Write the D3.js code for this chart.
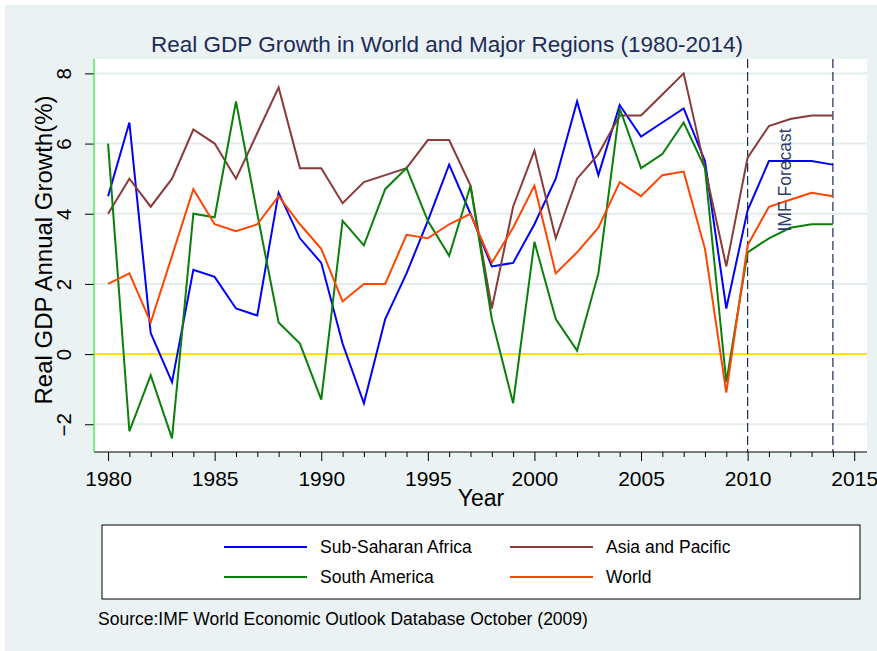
<!DOCTYPE html>
<html><head><meta charset="utf-8">
<script src="https://cdn.jsdelivr.net/npm/d3@7"></script>
<style>body{margin:0;background:#fff;} svg{display:block;font-family:"Liberation Sans",Arial,sans-serif;}</style>
</head><body>
<script>
const years = d3.range(1980, 2015);
const subSaharanAfrica = [4.5,6.6,0.6,-0.8,2.4,2.2,1.3,1.1,4.6,3.3,2.6,0.3,-1.4,1.0,2.3,3.8,5.4,4.0,2.5,2.6,3.7,5.0,7.2,5.1,7.1,6.2,6.6,7.0,5.5,1.3,4.1,5.5,5.5,5.5,5.4];
const asiaPacific = [4.0,5.0,4.2,5.0,6.4,6.0,5.0,6.3,7.6,5.3,5.3,4.3,4.9,5.1,5.3,6.1,6.1,4.8,1.3,4.2,5.8,3.3,5.0,5.7,6.8,6.8,7.4,8.0,5.3,2.5,5.6,6.5,6.7,6.8,6.8];
const southAmerica = [6.0,-2.2,-0.6,-2.4,4.0,3.9,7.2,4.0,0.9,0.3,-1.3,3.8,3.1,4.7,5.3,3.8,2.8,4.8,1.0,-1.4,3.2,1.0,0.1,2.3,7.0,5.3,5.7,6.6,5.3,-0.8,2.9,3.3,3.6,3.7,3.7];
const world = [2.0,2.3,0.9,2.8,4.7,3.7,3.5,3.7,4.5,3.7,3.0,1.5,2.0,2.0,3.4,3.3,3.7,4.0,2.6,3.6,4.8,2.3,2.9,3.6,4.9,4.5,5.1,5.2,3.0,-1.1,3.1,4.2,4.4,4.6,4.5];
const seriesNames = ["Sub-Saharan Africa","Asia and Pacific","South America","World"];
const seriesColors = ["#0000ff","#8b3a3a","#0a800a","#ff4500"];
const yTicks = [-2,0,2,4,6,8];
const xTicks = [1980,1985,1990,1995,2000,2005,2010,2015];
const forecastYears = [2010,2014];
const titleText = "Real GDP Growth in World and Major Regions (1980-2014)";
const sourceText = "Source:IMF World Economic Outlook Database October (2009)";

const W = 877, H = 651;
const pl = 94, pr = 867, pt = 59, pb = 452;
const svg = d3.select("body").append("svg").attr("width", W).attr("height", H);
svg.append("rect").attr("x",0).attr("y",0).attr("width",W).attr("height",H).attr("fill","#ffffff");
svg.append("rect").attr("x",5).attr("y",5).attr("width",W-5).attr("height",H-5).attr("fill","#eaf2f3");
svg.append("rect").attr("x",pl).attr("y",pt).attr("width",pr-pl).attr("height",pb-pt).attr("fill","#ffffff");

const x = d3.scaleLinear().domain([1979.34, 2015.6]).range([pl, pr]);
const y = d3.scaleLinear().domain([-2.79, 8.41]).range([pb, pt]);

// gridlines
svg.append("g").selectAll("line").data(yTicks.filter(v=>v!==0)).join("line")
  .attr("x1",pl).attr("x2",pr).attr("y1",d=>y(d)).attr("y2",d=>y(d))
  .attr("stroke","#e4ecee").attr("stroke-width",2);
// zero line
svg.append("line").attr("x1",pl).attr("x2",pr).attr("y1",y(0)).attr("y2",y(0))
  .attr("stroke","#ffd700").attr("stroke-width",1.8);

// forecast lines
svg.append("g").selectAll("line").data(forecastYears).join("line")
  .attr("x1",d=>x(d)).attr("x2",d=>x(d)).attr("y1",pt).attr("y2",pb)
  .attr("stroke","#1a2a5a").attr("stroke-width",1.2).attr("stroke-dasharray","9,4");

// series
const data = [subSaharanAfrica, asiaPacific, southAmerica, world];
const line = d3.line().x((d,i)=>x(years[i])).y(d=>y(d));
data.forEach((s,k)=>{
  svg.append("path").attr("d", line(s)).attr("fill","none")
    .attr("stroke", seriesColors[k]).attr("stroke-width",2).attr("stroke-linejoin","miter");
});

// IMF Forecast label
svg.append("text").attr("transform",`translate(${x(2011.74)},${180}) rotate(-90)`)
  .attr("text-anchor","middle").attr("dominant-baseline","central")
  .attr("font-size",17.5).attr("fill","#2e3f6e").text("IMF Forecast");

// x axis
const xAxis = d3.axisBottom(x).tickValues(xTicks).tickFormat(d3.format("d")).tickSize(9).tickPadding(10);
const gx = svg.append("g").attr("transform",`translate(0,${pb})`).call(xAxis);
gx.select(".domain").remove();
gx.selectAll("text").attr("font-size",21).attr("fill","#000").attr("font-family","Liberation Sans, Arial, sans-serif");
gx.selectAll("line").attr("stroke","#000");
svg.append("g").attr("transform",`translate(0,${pb})`)
  .call(d3.axisBottom(x).tickValues(years.filter(v=>v%5!==0)).tickSize(5).tickFormat(""))
  .call(g=>g.select(".domain").remove()).selectAll("line").attr("stroke","#000");
svg.append("line").attr("x1",pl).attr("x2",pr).attr("y1",pb).attr("y2",pb).attr("stroke","#000").attr("stroke-width",1.2);

// y axis
const gy = svg.append("g").attr("transform",`translate(${pl},0)`)
  .call(d3.axisLeft(y).tickValues(yTicks).tickSize(9).tickFormat(d3.format("d")));
gy.select(".domain").remove();
gy.selectAll("line").attr("stroke","#000");
gy.selectAll("text").attr("font-size",20.5).attr("fill","#000").attr("font-family","Liberation Sans, Arial, sans-serif")
  .attr("text-anchor","middle").attr("dy",null).attr("dominant-baseline","central")
  .attr("x",null).attr("y",0)
  .attr("transform","translate(-31,0) rotate(-90)");
svg.append("line").attr("x1",pl).attr("x2",pl).attr("y1",pt).attr("y2",pb).attr("stroke","#33ee33").attr("stroke-width",1.3);

// axis titles
svg.append("text").attr("transform",`translate(52,${250}) rotate(-90)`).attr("text-anchor","middle")
  .attr("font-size",24).attr("fill","#000").text("Real GDP Annual Growth(%)");
svg.append("text").attr("x",481).attr("y",506).attr("text-anchor","middle")
  .attr("font-size",23).attr("fill","#000").text("Year");
// title
svg.append("text").attr("x",447).attr("y",52).attr("text-anchor","middle")
  .attr("font-size",22.5).attr("fill","#1e2b58").text(titleText);

// legend
svg.append("rect").attr("x",102).attr("y",525).attr("width",758).attr("height",74)
  .attr("fill","#fff").attr("stroke","#000").attr("stroke-width",1);
const legPos = [[224,547],[510,547],[224,577],[510,577]];
seriesNames.forEach((n,k)=>{
  const [lx,ly] = legPos[k];
  svg.append("line").attr("x1",lx).attr("x2",lx+83).attr("y1",ly).attr("y2",ly)
    .attr("stroke",seriesColors[k]).attr("stroke-width",2);
  svg.append("text").attr("x",lx+96).attr("y",ly).attr("dominant-baseline","central")
    .attr("font-size",17.5).attr("fill","#000").text(n);
});
svg.append("text").attr("x",98).attr("y",625).attr("font-size",17.5).attr("fill","#000").text(sourceText);
</script>
</body></html>
